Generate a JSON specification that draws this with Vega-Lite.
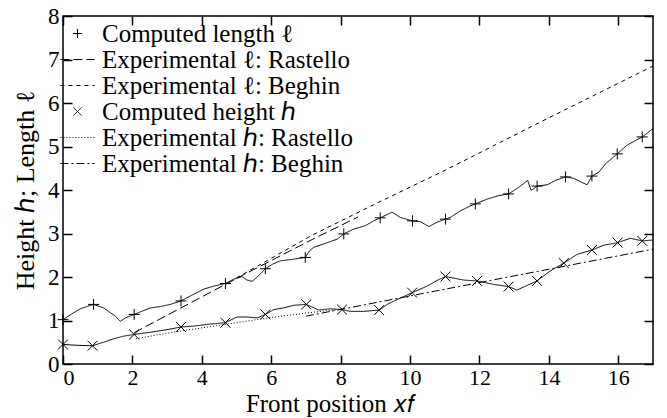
{
  "$schema": "https://vega.github.io/schema/vega-lite/v6.json",
  "width": 590,
  "height": 348,
  "autosize": "none",
  "padding": {"left": 63, "top": 16, "right": 14, "bottom": 54},
  "background": "white",
  "config": {
    "view": {"stroke": "black", "strokeWidth": 1.5},
    "font": "Liberation Serif"
  },
  "datasets": {
    "lines": [
      {"series": "Computed length ℓ", "x": 0, "y": 1.02},
      {"series": "Computed length ℓ", "x": 0.25, "y": 1.15},
      {"series": "Computed length ℓ", "x": 0.5, "y": 1.27},
      {"series": "Computed length ℓ", "x": 0.88, "y": 1.37},
      {"series": "Computed length ℓ", "x": 1.17, "y": 1.29},
      {"series": "Computed length ℓ", "x": 1.36, "y": 1.18},
      {"series": "Computed length ℓ", "x": 1.51, "y": 1.1},
      {"series": "Computed length ℓ", "x": 1.65, "y": 0.98},
      {"series": "Computed length ℓ", "x": 1.8, "y": 1.06},
      {"series": "Computed length ℓ", "x": 2.05, "y": 1.14},
      {"series": "Computed length ℓ", "x": 2.3, "y": 1.22},
      {"series": "Computed length ℓ", "x": 2.52, "y": 1.29},
      {"series": "Computed length ℓ", "x": 2.8, "y": 1.32},
      {"series": "Computed length ℓ", "x": 3.09, "y": 1.37},
      {"series": "Computed length ℓ", "x": 3.4, "y": 1.45},
      {"series": "Computed length ℓ", "x": 3.76, "y": 1.6},
      {"series": "Computed length ℓ", "x": 4.05, "y": 1.72},
      {"series": "Computed length ℓ", "x": 4.34, "y": 1.79},
      {"series": "Computed length ℓ", "x": 4.68, "y": 1.85},
      {"series": "Computed length ℓ", "x": 4.92, "y": 1.95},
      {"series": "Computed length ℓ", "x": 5.16, "y": 2.01},
      {"series": "Computed length ℓ", "x": 5.3, "y": 1.93},
      {"series": "Computed length ℓ", "x": 5.45, "y": 1.9},
      {"series": "Computed length ℓ", "x": 5.6, "y": 2.0},
      {"series": "Computed length ℓ", "x": 5.83, "y": 2.19},
      {"series": "Computed length ℓ", "x": 6.05, "y": 2.3},
      {"series": "Computed length ℓ", "x": 6.26, "y": 2.37},
      {"series": "Computed length ℓ", "x": 6.65, "y": 2.41},
      {"series": "Computed length ℓ", "x": 6.98, "y": 2.45},
      {"series": "Computed length ℓ", "x": 7.1, "y": 2.6},
      {"series": "Computed length ℓ", "x": 7.22, "y": 2.68},
      {"series": "Computed length ℓ", "x": 7.51, "y": 2.76},
      {"series": "Computed length ℓ", "x": 7.9, "y": 2.87},
      {"series": "Computed length ℓ", "x": 8.09, "y": 2.99},
      {"series": "Computed length ℓ", "x": 8.37, "y": 3.1},
      {"series": "Computed length ℓ", "x": 8.71, "y": 3.18},
      {"series": "Computed length ℓ", "x": 8.95, "y": 3.29},
      {"series": "Computed length ℓ", "x": 9.14, "y": 3.36},
      {"series": "Computed length ℓ", "x": 9.48, "y": 3.49},
      {"series": "Computed length ℓ", "x": 9.72, "y": 3.37},
      {"series": "Computed length ℓ", "x": 10.07, "y": 3.29},
      {"series": "Computed length ℓ", "x": 10.3, "y": 3.27},
      {"series": "Computed length ℓ", "x": 10.54, "y": 3.16},
      {"series": "Computed length ℓ", "x": 10.78, "y": 3.26},
      {"series": "Computed length ℓ", "x": 11.02, "y": 3.33},
      {"series": "Computed length ℓ", "x": 11.16, "y": 3.37},
      {"series": "Computed length ℓ", "x": 11.45, "y": 3.52},
      {"series": "Computed length ℓ", "x": 11.7, "y": 3.62},
      {"series": "Computed length ℓ", "x": 11.88, "y": 3.68},
      {"series": "Computed length ℓ", "x": 12.22, "y": 3.79},
      {"series": "Computed length ℓ", "x": 12.55, "y": 3.87},
      {"series": "Computed length ℓ", "x": 12.84, "y": 3.91},
      {"series": "Computed length ℓ", "x": 13.13, "y": 4.06},
      {"series": "Computed length ℓ", "x": 13.39, "y": 4.22},
      {"series": "Computed length ℓ", "x": 13.49, "y": 3.99},
      {"series": "Computed length ℓ", "x": 13.66, "y": 4.09},
      {"series": "Computed length ℓ", "x": 13.95, "y": 4.12},
      {"series": "Computed length ℓ", "x": 14.19, "y": 4.22},
      {"series": "Computed length ℓ", "x": 14.48, "y": 4.3},
      {"series": "Computed length ℓ", "x": 14.71, "y": 4.27},
      {"series": "Computed length ℓ", "x": 14.91, "y": 4.19},
      {"series": "Computed length ℓ", "x": 15.1, "y": 4.12},
      {"series": "Computed length ℓ", "x": 15.24, "y": 4.32},
      {"series": "Computed length ℓ", "x": 15.44, "y": 4.41},
      {"series": "Computed length ℓ", "x": 15.63, "y": 4.6},
      {"series": "Computed length ℓ", "x": 15.97, "y": 4.83},
      {"series": "Computed length ℓ", "x": 16.25, "y": 5.03},
      {"series": "Computed length ℓ", "x": 16.69, "y": 5.22},
      {"series": "Computed length ℓ", "x": 17, "y": 5.41},
      {"series": "Experimental ℓ: Rastello", "x": 2.05, "y": 0.72},
      {"series": "Experimental ℓ: Rastello", "x": 5.2, "y": 2.05},
      {"series": "Experimental ℓ: Rastello", "x": 7.2, "y": 2.87},
      {"series": "Experimental ℓ: Rastello", "x": 8.5, "y": 3.38},
      {"series": "Experimental ℓ: Beghin", "x": 5.0, "y": 1.98},
      {"series": "Experimental ℓ: Beghin", "x": 7.2, "y": 2.97},
      {"series": "Experimental ℓ: Beghin", "x": 9, "y": 3.68},
      {"series": "Experimental ℓ: Beghin", "x": 11, "y": 4.45},
      {"series": "Experimental ℓ: Beghin", "x": 14, "y": 5.66},
      {"series": "Experimental ℓ: Beghin", "x": 17, "y": 6.85},
      {"series": "Computed height ℎ", "x": 0, "y": 0.45},
      {"series": "Computed height ℎ", "x": 0.4, "y": 0.43},
      {"series": "Computed height ℎ", "x": 0.85, "y": 0.42},
      {"series": "Computed height ℎ", "x": 1.17, "y": 0.5},
      {"series": "Computed height ℎ", "x": 1.46, "y": 0.58},
      {"series": "Computed height ℎ", "x": 1.75, "y": 0.64},
      {"series": "Computed height ℎ", "x": 2.05, "y": 0.68},
      {"series": "Computed height ℎ", "x": 2.52, "y": 0.73},
      {"series": "Computed height ℎ", "x": 3.0, "y": 0.79},
      {"series": "Computed height ℎ", "x": 3.4, "y": 0.85},
      {"series": "Computed height ℎ", "x": 3.76, "y": 0.87},
      {"series": "Computed height ℎ", "x": 4.15, "y": 0.91},
      {"series": "Computed height ℎ", "x": 4.68, "y": 0.95},
      {"series": "Computed height ℎ", "x": 5.01, "y": 1.08},
      {"series": "Computed height ℎ", "x": 5.3, "y": 1.08},
      {"series": "Computed height ℎ", "x": 5.6, "y": 1.06},
      {"series": "Computed height ℎ", "x": 5.83, "y": 1.14},
      {"series": "Computed height ℎ", "x": 6.07, "y": 1.25},
      {"series": "Computed height ℎ", "x": 6.36, "y": 1.29},
      {"series": "Computed height ℎ", "x": 6.65, "y": 1.35},
      {"series": "Computed height ℎ", "x": 7.01, "y": 1.37},
      {"series": "Computed height ℎ", "x": 7.37, "y": 1.24},
      {"series": "Computed height ℎ", "x": 7.7, "y": 1.27},
      {"series": "Computed height ℎ", "x": 8.04, "y": 1.25},
      {"series": "Computed height ℎ", "x": 8.28, "y": 1.21},
      {"series": "Computed height ℎ", "x": 8.66, "y": 1.21},
      {"series": "Computed height ℎ", "x": 9.11, "y": 1.24},
      {"series": "Computed height ℎ", "x": 9.34, "y": 1.37},
      {"series": "Computed height ℎ", "x": 9.62, "y": 1.48},
      {"series": "Computed height ℎ", "x": 10.06, "y": 1.64},
      {"series": "Computed height ℎ", "x": 10.49, "y": 1.79},
      {"series": "Computed height ℎ", "x": 10.8, "y": 1.93},
      {"series": "Computed height ℎ", "x": 11.02, "y": 2.01},
      {"series": "Computed height ℎ", "x": 11.54, "y": 1.93},
      {"series": "Computed height ℎ", "x": 11.93, "y": 1.91},
      {"series": "Computed height ℎ", "x": 12.41, "y": 1.83},
      {"series": "Computed height ℎ", "x": 12.84, "y": 1.78},
      {"series": "Computed height ℎ", "x": 13.08, "y": 1.7},
      {"series": "Computed height ℎ", "x": 13.66, "y": 1.91},
      {"series": "Computed height ℎ", "x": 14.04, "y": 2.14},
      {"series": "Computed height ℎ", "x": 14.43, "y": 2.32},
      {"series": "Computed height ℎ", "x": 14.81, "y": 2.52},
      {"series": "Computed height ℎ", "x": 15.24, "y": 2.62},
      {"series": "Computed height ℎ", "x": 15.58, "y": 2.73},
      {"series": "Computed height ℎ", "x": 15.98, "y": 2.79},
      {"series": "Computed height ℎ", "x": 16.35, "y": 2.89},
      {"series": "Computed height ℎ", "x": 16.69, "y": 2.83},
      {"series": "Computed height ℎ", "x": 17, "y": 2.85},
      {"series": "Experimental ℎ: Rastello", "x": 2.1, "y": 0.58},
      {"series": "Experimental ℎ: Rastello", "x": 3, "y": 0.71},
      {"series": "Experimental ℎ: Rastello", "x": 4, "y": 0.83},
      {"series": "Experimental ℎ: Rastello", "x": 5, "y": 0.95},
      {"series": "Experimental ℎ: Rastello", "x": 6, "y": 1.07},
      {"series": "Experimental ℎ: Rastello", "x": 7, "y": 1.17},
      {"series": "Experimental ℎ: Rastello", "x": 8.1, "y": 1.27},
      {"series": "Experimental ℎ: Beghin", "x": 7.0, "y": 1.1},
      {"series": "Experimental ℎ: Beghin", "x": 10.88, "y": 1.7},
      {"series": "Experimental ℎ: Beghin", "x": 17, "y": 2.64}
    ],
    "markers": [
      {"series": "Computed length ℓ", "x": 0, "y": 1.02},
      {"series": "Computed length ℓ", "x": 0.88, "y": 1.37},
      {"series": "Computed length ℓ", "x": 2.05, "y": 1.14},
      {"series": "Computed length ℓ", "x": 3.4, "y": 1.45},
      {"series": "Computed length ℓ", "x": 4.68, "y": 1.85},
      {"series": "Computed length ℓ", "x": 5.83, "y": 2.19},
      {"series": "Computed length ℓ", "x": 6.98, "y": 2.45},
      {"series": "Computed length ℓ", "x": 8.09, "y": 2.99},
      {"series": "Computed length ℓ", "x": 9.14, "y": 3.36},
      {"series": "Computed length ℓ", "x": 10.07, "y": 3.29},
      {"series": "Computed length ℓ", "x": 11.02, "y": 3.33},
      {"series": "Computed length ℓ", "x": 11.88, "y": 3.68},
      {"series": "Computed length ℓ", "x": 12.84, "y": 3.91},
      {"series": "Computed length ℓ", "x": 13.66, "y": 4.09},
      {"series": "Computed length ℓ", "x": 14.48, "y": 4.3},
      {"series": "Computed length ℓ", "x": 15.24, "y": 4.32},
      {"series": "Computed length ℓ", "x": 15.97, "y": 4.83},
      {"series": "Computed length ℓ", "x": 16.69, "y": 5.22},
      {"series": "Computed height ℎ", "x": 0, "y": 0.45},
      {"series": "Computed height ℎ", "x": 0.85, "y": 0.42},
      {"series": "Computed height ℎ", "x": 2.05, "y": 0.68},
      {"series": "Computed height ℎ", "x": 3.4, "y": 0.85},
      {"series": "Computed height ℎ", "x": 4.68, "y": 0.95},
      {"series": "Computed height ℎ", "x": 5.83, "y": 1.14},
      {"series": "Computed height ℎ", "x": 7.01, "y": 1.37},
      {"series": "Computed height ℎ", "x": 8.04, "y": 1.25},
      {"series": "Computed height ℎ", "x": 9.11, "y": 1.24},
      {"series": "Computed height ℎ", "x": 10.06, "y": 1.64},
      {"series": "Computed height ℎ", "x": 11.02, "y": 2.01},
      {"series": "Computed height ℎ", "x": 11.93, "y": 1.91},
      {"series": "Computed height ℎ", "x": 12.84, "y": 1.78},
      {"series": "Computed height ℎ", "x": 13.66, "y": 1.91},
      {"series": "Computed height ℎ", "x": 14.43, "y": 2.32},
      {"series": "Computed height ℎ", "x": 15.24, "y": 2.62},
      {"series": "Computed height ℎ", "x": 15.98, "y": 2.79},
      {"series": "Computed height ℎ", "x": 16.69, "y": 2.83}
    ]
  },
  "layer": [
    {
      "data": {"name": "lines"},
      "mark": {"type": "line", "stroke": "black", "strokeWidth": 1},
      "encoding": {
        "x": {"field": "x", "type": "quantitative",
          "scale": {"domain": [0, 17], "nice": false, "zero": false},
          "axis": {"orient": "bottom", "values": [0, 2, 4, 6, 8, 10, 12, 14, 16],
            "title": "Front position 𝑥𝑓", "grid": false, "domain": false,
            "tickSize": -9, "tickColor": "black", "tickWidth": 1.5,
            "labelFont": "Liberation Serif", "labelFontSize": 22, "labelColor": "black", "labelPadding": 12,
            "titleFont": "Liberation Serif", "titleFontSize": 25, "titleFontWeight": "normal", "titleColor": "black",
            "titleX": 267, "titleY": 47, "titleAlign": "center", "titleBaseline": "alphabetic"}},
        "y": {"field": "y", "type": "quantitative",
          "scale": {"domain": [0, 8], "nice": false, "zero": true},
          "axis": {"orient": "left", "values": [0, 1, 2, 3, 4, 5, 6, 7, 8],
            "title": "Height ℎ; Length ℓ", "grid": false, "domain": false,
            "tickSize": -9, "tickColor": "black", "tickWidth": 1.5,
            "labelFont": "Liberation Serif", "labelFontSize": 23, "labelColor": "black", "labelPadding": 13,
            "titleFont": "Liberation Serif", "titleFontSize": 26, "titleFontWeight": "normal", "titleColor": "black", "titlePadding": 9}},
        "strokeDash": {"field": "series", "type": "nominal",
          "scale": {"domain": ["Computed length ℓ", "Experimental ℓ: Rastello", "Experimental ℓ: Beghin", "Computed height ℎ", "Experimental ℎ: Rastello", "Experimental ℎ: Beghin"],
            "range": [[1, 0], [9, 4], [4, 4], [1, 0], [1, 2], [8, 3, 2, 3]]},
          "legend": {"orient": "none", "legendX": 2, "legendY": 5, "title": null,
            "labelFont": "Liberation Serif", "labelFontSize": 25, "labelColor": "black", "labelLimit": 400,
            "symbolSize": 324, "symbolStrokeColor": "black", "symbolStrokeWidth": 1, "symbolFillColor": "transparent",
            "labelOffset": 12, "rowPadding": 0, "padding": 0}}
      }
    },
    {
      "data": {"name": "markers"},
      "mark": {"type": "point", "filled": false, "stroke": "black", "strokeWidth": 1, "size": 484, "opacity": 1},
      "encoding": {
        "x": {"field": "x", "type": "quantitative",
          "axis": {"orient": "top", "values": [0, 2, 4, 6, 8, 10, 12, 14, 16], "labels": false, "title": null, "grid": false, "domain": false,
            "tickSize": -9, "tickColor": "black", "tickWidth": 1.5}},
        "y": {"field": "y", "type": "quantitative",
          "axis": {"orient": "right", "values": [0, 1, 2, 3, 4, 5, 6, 7, 8], "labels": false, "title": null, "grid": false, "domain": false,
            "tickSize": -9, "tickColor": "black", "tickWidth": 1.5}},
        "shape": {"field": "series", "type": "nominal",
          "scale": {"domain": ["Computed length ℓ", "Experimental ℓ: Rastello", "Experimental ℓ: Beghin", "Computed height ℎ", "Experimental ℎ: Rastello", "Experimental ℎ: Beghin"],
            "range": ["M-0.5,0L0.5,0M0,-0.5L0,0.5", "M-1.9,0L1.9,0", "M-1.9,0L1.9,0", "M-0.45,-0.45L0.45,0.45M-0.45,0.45L0.45,-0.45", "M-1.9,0L1.9,0", "M-1.9,0L1.9,0"]},
          "legend": {"orient": "none", "legendX": 2, "legendY": 5, "title": null,
            "labelFont": "Liberation Serif", "labelFontSize": 25, "labelColor": "black", "labelLimit": 400,
            "symbolSize": 324, "symbolStrokeColor": "black", "symbolStrokeWidth": 1, "symbolFillColor": "transparent",
            "labelOffset": 12, "rowPadding": 0, "padding": 0}}
      }
    }
  ],
  "resolve": {"axis": {"x": "independent", "y": "independent"}}
}
